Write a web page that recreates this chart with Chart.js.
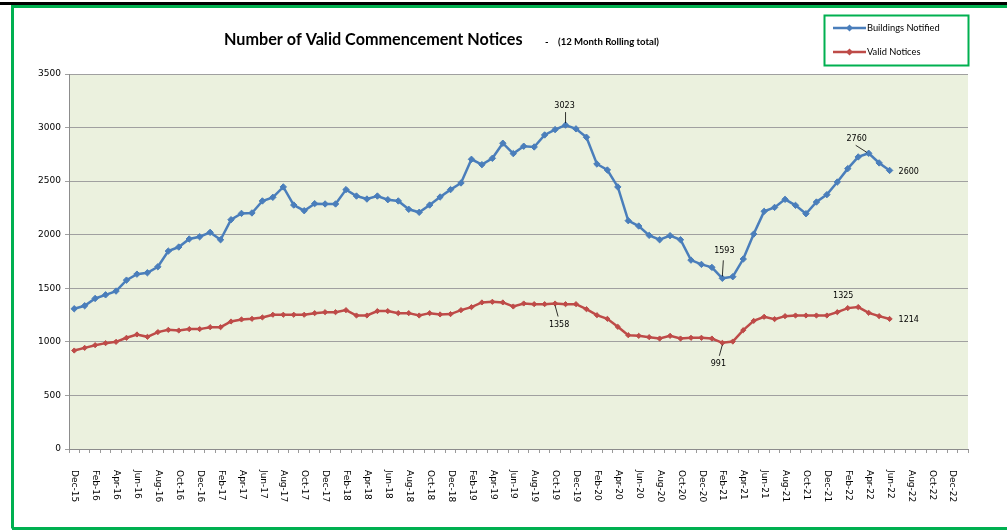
<!DOCTYPE html>
<html><head><meta charset="utf-8">
<script src="https://cdn.jsdelivr.net/npm/chart.js@4"></script>
<style>html,body{margin:0;padding:0;background:#fff}canvas{display:block}</style>
</head><body>
<canvas id="c" width="1007" height="531"></canvas>
<script>
const months = ["Dec-15",
 "Jan-16","Feb-16","Mar-16","Apr-16","May-16","Jun-16","Jul-16","Aug-16","Sep-16","Oct-16","Nov-16","Dec-16",
 "Jan-17","Feb-17","Mar-17","Apr-17","May-17","Jun-17","Jul-17","Aug-17","Sep-17","Oct-17","Nov-17","Dec-17",
 "Jan-18","Feb-18","Mar-18","Apr-18","May-18","Jun-18","Jul-18","Aug-18","Sep-18","Oct-18","Nov-18","Dec-18",
 "Jan-19","Feb-19","Mar-19","Apr-19","May-19","Jun-19","Jul-19","Aug-19","Sep-19","Oct-19","Nov-19","Dec-19",
 "Jan-20","Feb-20","Mar-20","Apr-20","May-20","Jun-20","Jul-20","Aug-20","Sep-20","Oct-20","Nov-20","Dec-20",
 "Jan-21","Feb-21","Mar-21","Apr-21","May-21","Jun-21","Jul-21","Aug-21","Sep-21","Oct-21","Nov-21","Dec-21",
 "Jan-22","Feb-22","Mar-22","Apr-22","May-22","Jun-22","Jul-22","Aug-22","Sep-22","Oct-22","Nov-22","Dec-22",
 "Jan-23"];
const xTickLabels = ["Dec-15","Feb-16","Apr-16","Jun-16","Aug-16","Oct-16","Dec-16","Feb-17","Apr-17","Jun-17","Aug-17","Oct-17","Dec-17",
 "Feb-18","Apr-18","Jun-18","Aug-18","Oct-18","Dec-18","Feb-19","Apr-19","Jun-19","Aug-19","Oct-19","Dec-19",
 "Feb-20","Apr-20","Jun-20","Aug-20","Oct-20","Dec-20","Feb-21","Apr-21","Jun-21","Aug-21","Oct-21","Dec-21",
 "Feb-22","Apr-22","Jun-22","Aug-22","Oct-22","Dec-22"];
const buildingsNotified = [1309,1337,1405,1439,1474,1576,1632,1645,1701,1847,
 1885,1960,1981,2022,1953,2140,2199,2203,2315,2349,
 2446,2277,2224,2290,2287,2287,2421,2361,2333,2361,
 2327,2315,2237,2209,2277,2352,2421,2483,2704,2654,
 2713,2854,2757,2826,2819,2931,2981,3023,2988,2910,
 2660,2604,2446,2131,2081,1994,1953,1991,1953,1763,
 1723,1695,1593,1608,1773,2006,2218,2255,2330,2274,
 2196,2305,2374,2492,2617,2726,2760,2670,2600];
const validNotices = [919,944,969,988,1000,1038,1069,1047,1091,1112,
 1106,1119,1119,1137,1137,1190,1209,1215,1228,1253,
 1253,1253,1253,1268,1277,1277,1296,1246,1246,1287,
 1287,1268,1268,1246,1268,1256,1259,1296,1324,1368,
 1374,1368,1330,1358,1352,1352,1358,1352,1352,1305,
 1249,1215,1140,1062,1056,1044,1031,1056,1031,1038,
 1038,1031,991,1003,1109,1196,1234,1212,1240,1246,
 1246,1246,1246,1277,1315,1325,1271,1240,1214];
const yTicks = [0,500,1000,1500,2000,2500,3000,3500];
const seriesNames = ["Buildings Notified","Valid Notices"];
const titleText = "Number of Valid Commencement Notices";
const subtitleText = "(12 Month Rolling total)";

// annotated points: dataset, index, label offset, leader line
const annotations = [
  {ds:0,i:47,dx:-1,dy:-19,align:'center',lead:[0,-2,0,-13]},
  {ds:0,i:76,dx:-12,dy:-14,align:'center',lead:[-2,-1,-13,-8]},
  {ds:0,i:78,dx:9,dy:1,align:'left'},
  {ds:0,i:62,dx:2,dy:-27,align:'center',lead:[0,-2,1,-18]},
  {ds:1,i:62,dx:-4,dy:21,align:'center',lead:[0,2,-3,13]},
  {ds:1,i:75,dx:-15,dy:-11,align:'center'},
  {ds:1,i:78,dx:9,dy:1,align:'left'},
  {ds:1,i:46,dx:4,dy:21,align:'center',lead:[0,2,3,13]}
];

const decor = {
  id:'decor',
  beforeDraw(chart){
    const c = chart.ctx, a = chart.chartArea;
    c.save();
    c.fillStyle = '#fff'; c.fillRect(0,0,chart.width,chart.height);
    c.fillStyle = '#EBF1DE'; c.fillRect(a.left,a.top,a.right-a.left,a.bottom-a.top);
    // frame
    c.fillStyle = '#000'; c.fillRect(0,2,chart.width,3);
    c.strokeStyle = '#00B050'; c.lineWidth = 3;
    c.beginPath(); c.moveTo(12.5,528.5); c.lineTo(12.5,6.5); c.lineTo(chart.width+2,6.5); c.stroke();
    c.beginPath(); c.moveTo(12,528.5); c.lineTo(chart.width+2,528.5); c.stroke();
    c.restore();
  },
  afterDraw(chart){
    const c = chart.ctx;
    c.save();
    // title
    c.fillStyle = '#000'; c.textBaseline = 'middle'; c.textAlign = 'left';
    c.font = 'bold 16.2px Lato';
    c.fillText(titleText, 224, 40);
    c.font = 'bold 9.6px Lato';
    c.fillText('-', 545, 42);
    c.fillText(subtitleText, 558, 42);
    // x tick labels rotated, reading downward
    const xs = chart.scales.x;
    c.font = '9px "DejaVu Sans"'; c.fillStyle = '#000';
    xTickLabels.forEach(lbl => {
      const idx = months.indexOf(lbl);
      const x = xs.getPixelForValue(idx);
      c.save(); c.translate(x+0.5, 470); c.rotate(Math.PI/2);
      c.textAlign='left'; c.textBaseline='middle'; c.fillText(lbl,0,0); c.restore();
    });
    // data labels
    c.font = '8px "DejaVu Sans"';
    annotations.forEach(an => {
      const pt = chart.getDatasetMeta(an.ds).data[an.i];
      const v = chart.data.datasets[an.ds].data[an.i];
      if (an.lead){
        c.strokeStyle = '#000'; c.lineWidth = 0.8;
        c.beginPath(); c.moveTo(pt.x+an.lead[0],pt.y+an.lead[1]); c.lineTo(pt.x+an.lead[2],pt.y+an.lead[3]); c.stroke();
      }
      c.fillStyle = '#000'; c.textAlign = an.align; c.textBaseline = 'middle';
      c.fillText(String(v), pt.x+an.dx, pt.y+an.dy);
    });
    // legend
    c.strokeStyle = '#00B050'; c.lineWidth = 2;
    c.strokeRect(824.5,15.5,144,50);
    chart.data.datasets.forEach((ds,k) => {
      const y = 28 + k*24;
      c.strokeStyle = ds.borderColor; c.lineWidth = 2.5;
      c.beginPath(); c.moveTo(833,y); c.lineTo(866,y); c.stroke();
      c.fillStyle = ds.borderColor;
      c.beginPath(); c.moveTo(849.5,y-3.5); c.lineTo(853,y); c.lineTo(849.5,y+3.5); c.lineTo(846,y); c.closePath(); c.fill();
      c.fillStyle = '#000'; c.font = '9.3px Lato'; c.textAlign='left'; c.textBaseline='middle';
      c.fillText(ds.label, 867, y);
    });
    c.restore();
  }
};

new Chart(document.getElementById('c'), {
  type:'line',
  data:{
    labels: months,
    datasets:[
      {label:seriesNames[0], data:buildingsNotified, borderColor:'#4A7EBB', backgroundColor:'#4A7EBB',
       borderWidth:2.5, pointStyle:'rectRot', pointRadius:3.2, pointBorderWidth:1, tension:0},
      {label:seriesNames[1], data:validNotices, borderColor:'#BE4B48', backgroundColor:'#BE4B48',
       borderWidth:2.5, pointStyle:'rectRot', pointRadius:2.6, pointBorderWidth:1, tension:0}
    ]
  },
  options:{
    responsive:false, animation:false, devicePixelRatio:1,
    layout:{padding:{left:0,right:39,top:74,bottom:0}},
    plugins:{legend:{display:false}, title:{display:false}, tooltip:{enabled:false}},
    scales:{
      x:{
        offset:true,
        grid:{display:true, drawOnChartArea:false, drawTicks:true, tickLength:4, color:'#9a9a9a', offset:true},
        border:{display:true, color:'#8c8c8c', width:1},
        ticks:{display:false, autoSkip:false},
        afterFit(s){ s.height = 82; }
      },
      y:{
        min:0, max:3500,
        afterBuildTicks(s){ s.ticks = yTicks.map(v=>({value:v})); },
        grid:{color:'#a0a0a0', lineWidth:1, tickLength:4, drawTicks:true},
        border:{display:true, color:'#8c8c8c', width:1},
        ticks:{font:{family:'DejaVu Sans', size:9}, color:'#000', padding:4, callback:v=>String(v)},
        afterFit(s){ s.width = 69; }
      }
    }
  },
  plugins:[decor]
});
</script>
</body></html>
